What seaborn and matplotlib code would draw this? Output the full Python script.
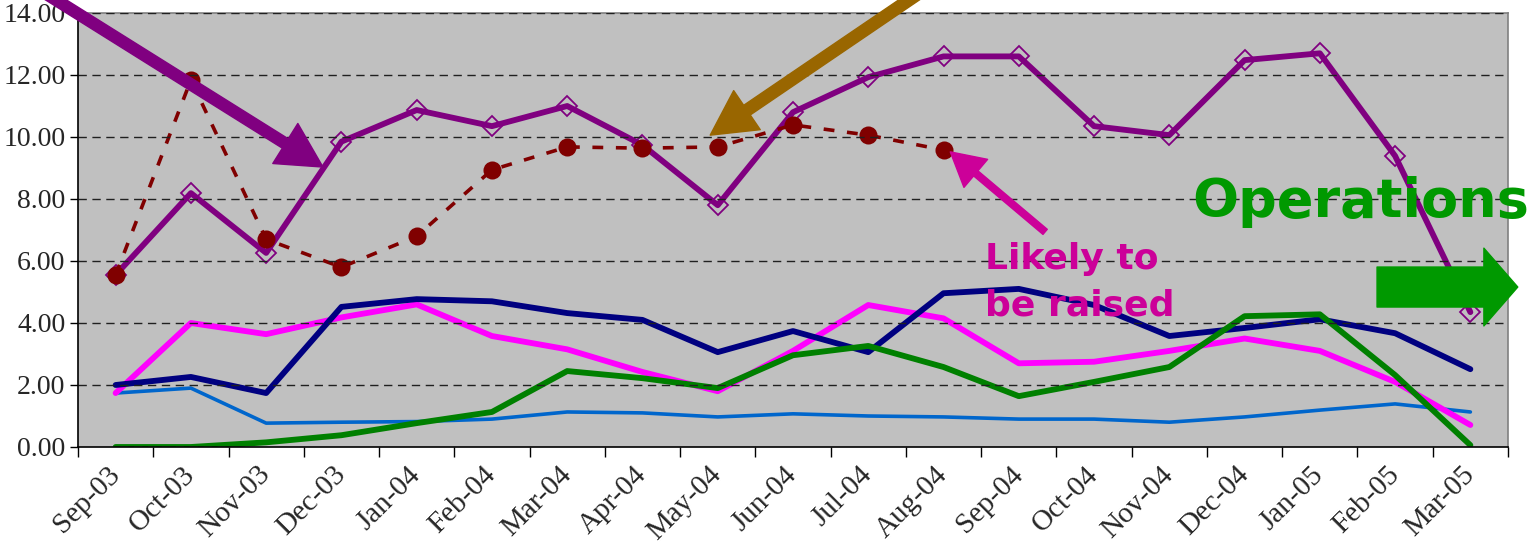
import matplotlib
matplotlib.use("Agg")
import matplotlib.pyplot as plt
from matplotlib.ticker import FixedLocator, FormatStrFormatter
import numpy as np
import seaborn as sns

# categories (months) and series values
months = ["Sep-03", "Oct-03", "Nov-03", "Dec-03", "Jan-04", "Feb-04", "Mar-04",
          "Apr-04", "May-04", "Jun-04", "Jul-04", "Aug-04", "Sep-04", "Oct-04",
          "Nov-04", "Dec-04", "Jan-05", "Feb-05", "Mar-05"]

purple_vals = [5.55, 8.19, 6.26, 9.85, 10.87, 10.35, 11.00, 9.74, 7.80, 10.80,
               11.93, 12.60, 12.60, 10.35, 10.06, 12.48, 12.70, 9.39, 4.35]
red_vals = [5.55, 11.84, 6.70, 5.80, 6.80, 8.94, 9.68, 9.64, 9.68, 10.39,
            10.06, 9.58]
navy_vals = [2.00, 2.26, 1.74, 4.52, 4.77, 4.70, 4.32, 4.10, 3.06, 3.74,
             3.06, 4.96, 5.10, 4.58, 3.58, 3.84, 4.12, 3.67, 2.51]
magenta_vals = [1.74, 4.00, 3.64, 4.18, 4.60, 3.58, 3.15, 2.42, 1.80, 3.10,
                4.58, 4.15, 2.70, 2.75, 3.10, 3.50, 3.10, 2.10, 0.71]
green_vals = [0.00, 0.00, 0.15, 0.38, 0.77, 1.13, 2.45, 2.22, 1.90, 2.96,
              3.26, 2.58, 1.64, 2.10, 2.58, 4.22, 4.28, 2.32, 0.06]
blue_vals = [1.74, 1.90, 0.77, 0.80, 0.82, 0.90, 1.13, 1.10, 0.97, 1.07,
             1.00, 0.97, 0.90, 0.90, 0.80, 0.97, 1.19, 1.39, 1.13]

y_ticks = [0, 2, 4, 6, 8, 10, 12, 14]

sns.set_style("white")
plt.rcParams['font.family'] = ['Liberation Serif', 'DejaVu Serif']

fig = plt.figure(figsize=(15.29, 5.45), dpi=100)
ax = fig.add_axes([78 / 1529, 98 / 545, 1430 / 1529, 434 / 545])
ax.set_facecolor("#C0C0C0")

pos = np.arange(len(months))

sns.lineplot(x=pos, y=blue_vals, ax=ax, color="#0066CC", linewidth=2.6)
sns.lineplot(x=pos, y=magenta_vals, ax=ax, color="#FF00FF", linewidth=4.2)
sns.lineplot(x=pos, y=navy_vals, ax=ax, color="#000080", linewidth=4.2)
sns.lineplot(x=pos, y=green_vals, ax=ax, color="#008000", linewidth=4.2)
sns.lineplot(x=pos, y=purple_vals, ax=ax, color="#800080", linewidth=4.2,
             marker="D", markersize=10, markerfacecolor="none",
             markeredgecolor="#800080", markeredgewidth=1.3)
sns.lineplot(x=pos[:len(red_vals)], y=red_vals, ax=ax, color="#800000",
             linewidth=2.6, dashes=False, linestyle=(0, (3, 3.5)),
             marker="o", markersize=13, markeredgewidth=0)

ax.set_xlim(-0.5, len(months) - 0.5)
ax.set_ylim(0, 14)

# y axis
ax.yaxis.set_major_locator(FixedLocator(y_ticks))
ax.yaxis.set_major_formatter(FormatStrFormatter("%.2f"))
ax.tick_params(axis="y", which="major", direction="out", length=6, width=1,
               color="black", labelsize=20, pad=3, left=True)
ax.yaxis.grid(True, linestyle=(0, (6, 4)), color="#202020", linewidth=1.0)
ax.set_axisbelow(False)

# x axis: labels at category centres, marks at boundaries
ax.set_xticks(pos)
ax.set_xticklabels(months, rotation=45, ha="right", va="center",
                   rotation_mode="anchor")
ax.set_xticks(np.arange(len(months) + 1) - 0.5, minor=True)
ax.tick_params(axis="x", which="major", length=0, labelsize=21, pad=17)
ax.tick_params(axis="x", which="minor", direction="out", length=7, width=1,
               color="black", bottom=True)

for side in ["top", "right"]:
    ax.spines[side].set_color("#808080")
for side in ["left", "bottom"]:
    ax.spines[side].set_color("black")
for s in ax.spines.values():
    s.set_linewidth(1.2)

ax.set_xlabel("")
ax.set_ylabel("")

# annotation arrows
ax.annotate("", xy=(2.755, 9.03), xytext=(-0.91, 14.6), annotation_clip=False,
            arrowprops=dict(arrowstyle="simple,head_length=0.8,head_width=0.85,tail_width=0.2",
                            color="#800080", mutation_scale=40, shrinkA=0, shrinkB=0))
ax.annotate("", xy=(7.90, 10.06), xytext=(10.65, 14.6), annotation_clip=False,
            arrowprops=dict(arrowstyle="simple,head_length=0.8,head_width=0.85,tail_width=0.21",
                            color="#996600", mutation_scale=40, shrinkA=0, shrinkB=0))
ax.annotate("", xy=(11.09, 9.52), xytext=(12.35, 6.94), annotation_clip=False,
            arrowprops=dict(arrowstyle="simple,head_length=0.6,head_width=0.66,tail_width=0.12",
                            color="#CC0099", mutation_scale=40, shrinkA=0, shrinkB=0))
ax.annotate("", xy=(18.63, 5.16), xytext=(16.76, 5.16), annotation_clip=False,
            arrowprops=dict(arrowstyle="simple,head_length=0.61,head_width=1.4,tail_width=0.72",
                            color="#009900", mutation_scale=40, shrinkA=0, shrinkB=0))

ax.text(11.55, 6.6, "Likely to\nbe raised", color="#CC0099", fontsize=26,
        fontweight="bold", family=["DejaVu Sans"], ha="left", va="top",
        linespacing=1.45)
ax.text(14.30, 7.42, "Operations", color="#009900", fontsize=39,
        fontweight="bold", family=["DejaVu Sans"], ha="left", va="baseline",
        clip_on=False)

fig.savefig("out.png", dpi=100)
